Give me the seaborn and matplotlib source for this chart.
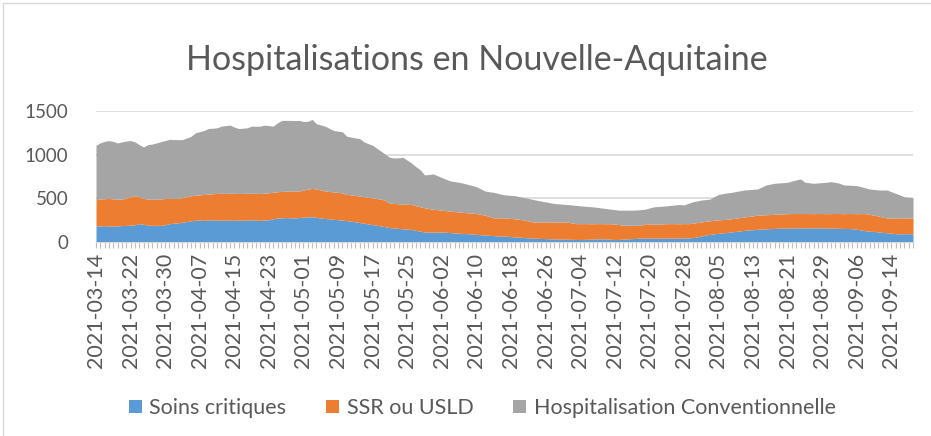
import numpy as np
import pandas as pd
import matplotlib
matplotlib.use("Agg")
import matplotlib.pyplot as plt
import seaborn as sns
from matplotlib.patches import Patch
from matplotlib.lines import Line2D

title = "Hospitalisations en Nouvelle-Aquitaine"
series_names = ["Soins critiques", "SSR ou USLD", "Hospitalisation Conventionnelle"]
colors = ["#5B9BD5", "#ED7D31", "#A5A5A5"]

dates = pd.date_range("2021-03-14", "2021-09-19", freq="D")

soins_critiques = [
    180, 178, 182, 179, 176, 180, 183, 185, 188, 192,
    205, 198, 188, 186, 187, 185, 192, 205, 210, 215,
    222, 230, 238, 244, 246, 243, 245, 248, 246, 244,
    246, 245, 243, 247, 244, 246, 248, 245, 243, 246,
    250, 262, 270, 272, 275, 273, 271, 276, 280, 283,
    284, 278, 270, 264, 260, 255, 250, 246, 240, 234,
    226, 218, 210, 202, 194, 186, 178, 170, 160, 155,
    150, 146, 142, 138, 128, 118, 110, 108, 107, 109,
    108, 106, 102, 98, 95, 92, 90, 86, 82, 78,
    74, 71, 68, 64, 62, 60, 56, 52, 50, 46,
    42, 39, 37, 35, 33, 31, 30, 28, 27, 26,
    25, 24, 23, 24, 26, 28, 30, 31, 29, 26,
    23, 24, 27, 30, 33, 36, 39, 38, 40, 39,
    38, 40, 39, 38, 40, 39, 41, 40, 45, 52,
    62, 75, 82, 88, 94, 100, 104, 110, 116, 122,
    128, 132, 136, 140, 143, 146, 148, 150, 152, 153,
    154, 155, 156, 157, 156, 155, 157, 156, 155, 154,
    153, 152, 151, 150, 149, 147, 140, 132, 124, 118,
    116, 110, 104, 101, 96, 90, 88, 89, 90, 89,
]

ssr_usld = [
    300, 310, 310, 316, 314, 306, 304, 315, 327, 334,
    307, 297, 300, 300, 300, 305, 302, 290, 286, 280,
    283, 285, 288, 288, 290, 298, 300, 301, 307, 310,
    307, 310, 311, 305, 309, 309, 306, 308, 309, 309,
    310, 304, 302, 304, 303, 307, 310, 304, 312, 319,
    326, 326, 322, 316, 315, 313, 315, 310, 301, 302,
    304, 304, 304, 306, 306, 307, 309, 300, 280, 282,
    284, 284, 285, 287, 284, 280, 278, 270, 264, 257,
    252, 248, 246, 246, 245, 242, 240, 240, 239, 234,
    228, 217, 204, 207, 210, 210, 209, 208, 205, 202,
    194, 186, 187, 190, 193, 193, 193, 196, 198, 198,
    189, 182, 182, 182, 179, 176, 176, 174, 175, 179,
    177, 170, 161, 156, 154, 150, 146, 167, 162, 159,
    162, 163, 166, 168, 165, 165, 165, 165, 165, 166,
    162, 157, 156, 156, 154, 152, 151, 152, 152, 153,
    154, 156, 159, 162, 162, 162, 162, 163, 163, 165,
    166, 166, 166, 164, 166, 166, 163, 166, 166, 166,
    168, 170, 170, 170, 173, 174, 180, 189, 197, 194,
    186, 182, 176, 170, 174, 182, 183, 181, 181, 183,
]

conventionnelle = [
    626, 647, 660, 665, 660, 647, 658, 655, 645, 619,
    602, 592, 626, 634, 646, 658, 666, 680, 676, 676,
    666, 675, 684, 717, 726, 735, 754, 753, 754, 772,
    779, 783, 761, 747, 749, 752, 772, 771, 774, 783,
    772, 760, 793, 816, 814, 812, 809, 812, 788, 778,
    794, 749, 748, 746, 725, 708, 703, 705, 669, 664,
    660, 661, 631, 617, 606, 577, 549, 530, 527, 523,
    528, 537, 508, 476, 448, 426, 378, 392, 406, 390,
    375, 361, 348, 344, 341, 336, 327, 318, 309, 293,
    278, 284, 293, 282, 268, 264, 265, 266, 260, 257,
    259, 260, 250, 239, 229, 222, 214, 209, 204, 201,
    206, 209, 205, 200, 197, 194, 186, 180, 175, 167,
    166, 166, 172, 175, 173, 176, 181, 166, 183, 200,
    202, 203, 205, 209, 215, 221, 214, 233, 246, 248,
    252, 250, 249, 271, 293, 298, 303, 303, 306, 308,
    310, 308, 305, 301, 321, 342, 350, 356, 358, 359,
    361, 375, 386, 398, 359, 354, 349, 351, 356, 361,
    367, 358, 348, 330, 326, 324, 322, 309, 295, 291,
    296, 300, 312, 321, 302, 281, 263, 244, 237, 231,
]

yticks = [0, 500, 1000, 1500]
label_step = 8

df = pd.DataFrame({
    "date": dates.strftime("%Y-%m-%d"),
    series_names[0]: soins_critiques,
    series_names[1]: ssr_usld,
    series_names[2]: conventionnelle,
})

sns.set_theme(style="white")
plt.rcParams["font.family"] = ["Lato", "DejaVu Sans"]
text_color = "#595959"
grid_color = "#D9D9D9"

W, H = 931, 436
fig = plt.figure(figsize=(W / 100, H / 100), dpi=100)
ax = fig.add_axes([96 / W, 1 - 241.5 / H, (913 - 96) / W, (241.5 - 111) / H])

x = np.arange(len(df))
ax.stackplot(x, df[series_names[0]], df[series_names[1]], df[series_names[2]],
             colors=colors, linewidth=0, zorder=3)

ax.set_xlim(0, len(df) - 1)
ax.set_ylim(0, 1500)
ax.set_yticks(yticks)
ax.set_yticklabels([str(v) for v in yticks])
for v in yticks[1:]:
    ax.axhline(v, color=grid_color, lw=1.2, zorder=1)

major = x[::label_step]
ax.set_xticks(major)
ax.set_xticklabels(df["date"].iloc[::label_step], rotation=90)
ax.set_xticks(x, minor=True)
ax.tick_params(axis="x", which="both", direction="out", length=4, width=0.8,
               color="#BFBFBF", pad=4, labelsize=15.5, labelcolor=text_color, bottom=True)
ax.tick_params(axis="y", length=0, pad=20, labelsize=13.5, labelcolor=text_color)

for s in ["top", "right", "left"]:
    ax.spines[s].set_visible(False)
ax.spines["bottom"].set_color(grid_color)
ax.spines["bottom"].set_linewidth(1)

fig.text(0.512, 1 - 60 / H, title, ha="center", va="center", fontsize=24.5,
         color=text_color)

handles = [Patch(facecolor=c, edgecolor="none") for c in colors]
fig.legend(handles, series_names, loc="center", bbox_to_anchor=(0.518, 1 - 408 / H),
           ncol=3, frameon=False, fontsize=15.5, labelcolor=text_color,
           handlelength=0.6, handleheight=0.6, handletextpad=0.35, columnspacing=1.85)

# chart area border (left / top)
fig.add_artist(Line2D([3 / W, 3 / W], [0, 1 - 3 / H], transform=fig.transFigure,
                      color="#D9D9D9", lw=1))
fig.add_artist(Line2D([3 / W, 1], [1 - 3 / H, 1 - 3 / H], transform=fig.transFigure,
                      color="#D9D9D9", lw=1))

fig.savefig("out.png", dpi=100)
